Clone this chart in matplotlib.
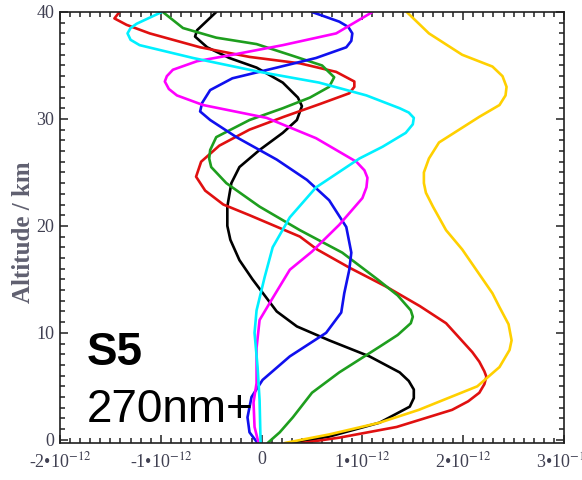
import numpy as np
import matplotlib
matplotlib.use("Agg")
import matplotlib.pyplot as plt
from matplotlib.ticker import MultipleLocator, FixedLocator, FixedFormatter

# profiles: (altitude km, value in units of 1e-12)
black_alt = [40.0, 38.3, 37.7, 36.7, 35.7, 34.8, 33.4, 32.0, 31.2, 29.9, 28.7, 27.1, 25.5, 24.0,
             21.8, 20.0, 18.7, 16.8, 15.0, 12.0, 10.6, 9.3, 7.8, 6.3, 5.5, 4.7, 3.9, 3.1, 1.6, 0.3, -0.3]
black_val = [-0.45, -0.64, -0.66, -0.54, -0.32, -0.05, 0.21, 0.36, 0.40, 0.35, 0.21, -0.02, -0.22, -0.30,
             -0.34, -0.34, -0.31, -0.22, -0.09, 0.15, 0.35, 0.67, 1.07, 1.37, 1.46, 1.51, 1.51, 1.47, 1.17, 0.67, 0.28]

red_alt = [40.0, 39.4, 38.8, 38.0, 36.7, 35.8, 35.2, 34.4, 33.5, 33.0, 32.4, 31.4, 30.2, 29.0, 27.5, 26.0,
           24.6, 23.3, 22.0, 21.0, 19.0, 17.8, 16.1, 14.3, 12.5, 10.9, 8.2, 7.3, 6.4, 5.9, 5.2, 4.4, 3.6,
           2.8, 1.2, 0.2, -0.3]
red_val = [-1.41, -1.46, -1.34, -1.11, -0.61, -0.12, 0.38, 0.74, 0.92, 0.92, 0.87, 0.58, 0.22, -0.12, -0.42, -0.60,
           -0.65, -0.56, -0.38, -0.12, 0.38, 0.55, 0.87, 1.24, 1.57, 1.83, 2.09, 2.16, 2.21, 2.23, 2.21, 2.16, 2.05,
           1.89, 1.34, 0.77, 0.40]

green_alt = [40.0, 38.5, 37.6, 37.0, 35.9, 35.0, 33.9, 33.0, 32.0, 31.0, 29.9, 28.3, 27.1, 26.3, 25.5, 24.0,
             21.8, 19.6, 17.5, 15.0, 13.5, 12.1, 11.5, 10.9, 9.8, 8.7, 6.3, 4.4, 2.1, 0.7, -0.3]
green_val = [-0.98, -0.78, -0.45, -0.05, 0.31, 0.60, 0.72, 0.67, 0.48, 0.21, -0.12, -0.45, -0.51, -0.52, -0.50, -0.35,
             -0.02, 0.38, 0.80, 1.15, 1.35, 1.48, 1.50, 1.48, 1.35, 1.17, 0.77, 0.50, 0.31, 0.18, 0.06]

blue_alt = [40.0, 39.1, 38.6, 38.0, 37.3, 36.7, 35.7, 34.8, 33.8, 32.7, 31.5, 30.7, 29.9, 28.3, 26.2, 24.3, 22.4,
            19.9, 17.5, 15.9, 13.7, 11.9, 10.0, 7.8, 5.6, 4.0, 2.1, 0.7, -0.3]
blue_val = [0.50, 0.77, 0.86, 0.90, 0.89, 0.84, 0.54, 0.15, -0.29, -0.51, -0.59, -0.61, -0.51, -0.25, 0.15, 0.45, 0.67,
            0.84, 0.89, 0.87, 0.82, 0.79, 0.64, 0.28, 0.01, -0.10, -0.14, -0.12, -0.04]

magenta_alt = [40.0, 38.0, 36.9, 36.0, 35.4, 34.6, 34.0, 33.5, 32.8, 32.2, 31.3, 30.1, 28.2, 26.0, 25.2, 24.5,
               23.6, 22.6, 20.1, 17.6, 15.9, 13.1, 11.2, 8.6, 5.3, 3.5, 1.2, -0.3]
magenta_val = [1.10, 0.74, 0.21, -0.29, -0.64, -0.88, -0.94, -0.96, -0.92, -0.84, -0.58, 0.05, 0.54, 0.94, 1.02, 1.05,
               1.04, 1.00, 0.77, 0.50, 0.28, 0.10, -0.02, -0.05, -0.05, -0.08, -0.07, -0.03]

cyan_alt = [40.0, 38.9, 38.5, 38.0, 37.4, 36.9, 35.7, 34.4, 33.4, 32.2, 31.0, 30.6, 30.1, 29.5, 28.7, 27.4, 26.3,
            23.6, 20.8, 18.0, 15.2, 12.1, 10.0, 6.8, 3.7, -0.3]
cyan_val = [-0.99, -1.24, -1.30, -1.33, -1.30, -1.21, -0.68, -0.02, 0.57, 1.04, 1.37, 1.46, 1.51, 1.50, 1.43, 1.20, 0.97,
            0.54, 0.28, 0.11, 0.03, -0.05, -0.07, -0.04, -0.02, -0.01]

gold_alt = [40.0, 38.0, 36.0, 34.9, 34.0, 33.0, 32.2, 31.3, 30.2, 27.8, 26.3, 25.0, 24.0, 23.1, 21.8, 19.6, 17.8,
            13.7, 12.4, 10.8, 9.3, 8.4, 6.8, 5.0, 2.8, 1.6, 0.5, -0.3]
gold_val = [1.44, 1.66, 1.99, 2.29, 2.39, 2.43, 2.42, 2.36, 2.16, 1.76, 1.66, 1.61, 1.61, 1.63, 1.70, 1.83, 1.99,
            2.29, 2.36, 2.45, 2.48, 2.46, 2.36, 2.14, 1.56, 1.17, 0.67, 0.23]

x_ticks = [-2, -1, 0, 1, 2, 3]
x_labels = ['-2•10$^{-12}$', '-1•10$^{-12}$', '0', '1•10$^{-12}$', '2•10$^{-12}$', '3•10$^{-12}$']
y_ticks = [0, 10, 20, 30, 40]

plt.rcParams['mathtext.fontset'] = 'stix'

fig = plt.figure(figsize=(5.82, 4.80), dpi=100)
ax = fig.add_axes([60 / 582, 37 / 480, 504 / 582, 431 / 480])

series = [
    (black_val, black_alt, '#000000'),
    (red_val, red_alt, '#e01010'),
    (green_val, green_alt, '#1e9e1e'),
    (blue_val, blue_alt, '#1010ee'),
    (magenta_val, magenta_alt, '#ff00ff'),
    (cyan_val, cyan_alt, '#00f0ff'),
    (gold_val, gold_alt, '#ffd000'),
]
for xv, yv, c in series:
    ax.plot(xv, yv, color=c, lw=1.9, solid_joinstyle='round', solid_capstyle='round')

ax.set_xlim(-2, 3)
ax.set_ylim(-0.3, 40)

ax.xaxis.set_major_locator(FixedLocator(x_ticks))
ax.xaxis.set_major_formatter(FixedFormatter(x_labels))
ax.xaxis.set_minor_locator(MultipleLocator(0.1))
ax.yaxis.set_major_locator(FixedLocator(y_ticks))
ax.yaxis.set_minor_locator(MultipleLocator(1))

ax.tick_params(which='both', direction='in', top=True, right=True, width=1.1, colors='#202020')
ax.tick_params(which='major', length=6)
ax.tick_params(which='minor', length=3.5)
ax.tick_params(axis='both', labelcolor='#404052')
ax.tick_params(axis='y', pad=4)
ax.tick_params(axis='x', pad=6)
for lab in ax.get_xticklabels() + ax.get_yticklabels():
    lab.set_fontfamily('Liberation Serif')
    lab.set_fontsize(13)
for sp in ax.spines.values():
    sp.set_linewidth(1.2)
    sp.set_color('#202020')

ax.set_ylabel('Altitude / km', fontfamily='Liberation Serif', fontsize=18, fontweight='bold', color='#606070')
ax.yaxis.label.set_va('center')
ax.yaxis.set_label_coords(-0.072, 0.49)

# annotation placed in figure pixels (origin bottom-left)
ax.text(87, 480 - 365, 'S5', transform=None, fontsize=33, fontweight='bold', fontfamily='Liberation Sans',
        color='black', zorder=10)
ax.text(87, 480 - 422, '270nm+', transform=None, fontsize=33, fontfamily='Liberation Sans',
        color='black', zorder=10)

fig.savefig('out.png', dpi=100)
